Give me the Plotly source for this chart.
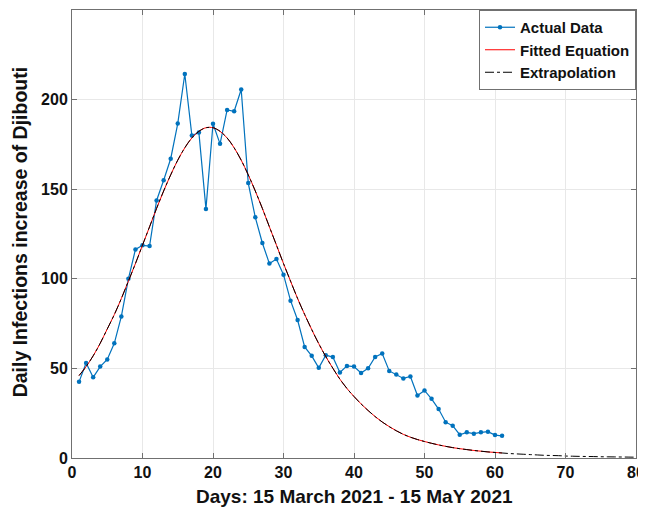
import plotly.graph_objects as go

# Actual daily infections (days 1..61)
actual_days = list(range(1, 62))
actual_values = [42.5, 53, 45, 51, 55, 64, 79, 100, 116.4, 118.7,
                 118.3, 143.7, 155, 167, 186.6, 214.3, 180, 181.6, 139, 186.5,
                 175.3, 194.2, 193.5, 205.6, 153.4, 134.3, 120, 108.5, 111, 102.3,
                 87.8, 77, 62, 57, 50.3, 57.4, 56.3, 47.7, 51.4, 51,
                 47.4, 50.1, 56.4, 58.3, 48.6, 46.6, 44.4, 45.5, 34.9, 37.7,
                 33, 27.3, 20, 18, 13, 14.3, 13.6, 14.3, 14.7, 12.8,
                 12.4]

# Fitted curve (days 1..61)
fit_days = list(range(1, 62))
fit_values = [46, 51, 57, 64, 72, 80, 89, 98.7, 108.5, 118.8,
              129, 139.3, 149, 158, 166.2, 173.1, 178.6, 182.3, 184.3, 184.3,
              182.3, 178.6, 173.1, 166.2, 158, 149, 139.3, 129, 118.8, 108.5,
              98.7, 89, 80.1, 71.7, 63.8, 56.6, 50.1, 44, 38.8, 34.3,
              30.2, 26.5, 23.1, 20.1, 17.5, 15.2, 13.2, 11.6, 10.3, 9.2,
              8.2, 7.3, 6.5, 5.8, 5.2, 4.7, 4.2, 3.8, 3.4, 3.1,
              2.8]

# Extrapolated curve (days 1..80)
extra_days = list(range(1, 81))
extra_values = fit_values + [2.5, 2.3, 2.1, 1.9, 1.7, 1.5, 1.4, 1.3, 1.1, 1.0,
                             0.9, 0.85, 0.8, 0.7, 0.65, 0.6, 0.55, 0.5, 0.45]

x_ticks = [0, 10, 20, 30, 40, 50, 60, 70, 80]
y_ticks = [0, 50, 100, 150, 200]

x_title = "Days: 15 March 2021 - 15 MaY 2021"
y_title = "Daily Infections increase of Djibouti"

FONT = "Liberation Sans, Arial, sans-serif"
AXC = "#707070"

fig = go.Figure()
fig.add_trace(go.Scatter(
    x=actual_days, y=actual_values, mode="lines+markers", name="<b>Actual Data</b>",
    line=dict(color="#0072BD", width=1.2),
    marker=dict(color="#0072BD", size=4.5)))
fig.add_trace(go.Scatter(
    x=fit_days, y=fit_values, mode="lines", name="<b>Fitted Equation</b>",
    line=dict(color="#ff0000", width=1, shape="spline")))
fig.add_trace(go.Scatter(
    x=extra_days, y=extra_values, mode="lines", name="<b>Extrapolation</b>",
    line=dict(color="#000000", width=1, dash="dashdot", shape="spline")))

axis_common = dict(
    showline=True, linecolor=AXC, linewidth=1, mirror="ticks",
    ticks="inside", ticklen=5, tickcolor=AXC,
    showgrid=True, gridcolor="#e8e8e8", gridwidth=1,
    zeroline=False, automargin=False, ticklabeloverflow="allow",
    tickfont=dict(family=FONT, size=16, color="#111111", weight="bold"),
)

# The page body adds an 8px margin, so the figure is 8px smaller
fig.update_layout(
    width=638, height=506,
    margin=dict(l=64, r=10, t=2, b=56),
    paper_bgcolor="white", plot_bgcolor="white",
    font=dict(family=FONT, color="#111111"),
    showlegend=True,
    legend=dict(x=1, y=1, xanchor="right", yanchor="top",
                bgcolor="white", bordercolor=AXC, borderwidth=1,
                font=dict(family=FONT, size=15, color="#111111"),
                tracegroupgap=0),
    xaxis=dict(range=[0, 80], tickvals=x_ticks, **axis_common),
    yaxis=dict(range=[0, 250], tickvals=y_ticks, **axis_common),
    annotations=[
        dict(text="<b>" + x_title + "</b>", xref="paper", yref="paper",
             x=0.5, y=-0.087, xanchor="center", yanchor="middle",
             showarrow=False, font=dict(family=FONT, size=19, color="#111111")),
        dict(text="<b>" + y_title + "</b>", xref="paper", yref="paper",
             x=-0.092, y=0.504, xanchor="center", yanchor="middle", textangle=-90,
             showarrow=False, font=dict(family=FONT, size=19.5, color="#111111")),
    ],
)

fig.write_html("out.html")
